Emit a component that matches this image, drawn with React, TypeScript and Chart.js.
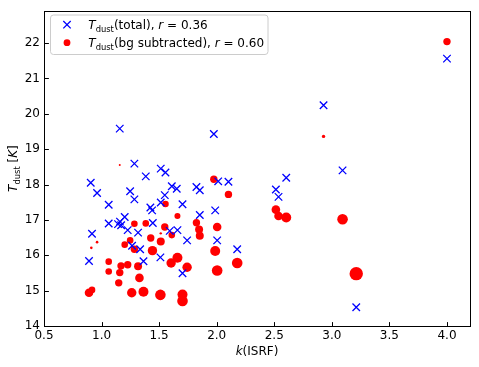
import React, { useEffect, useRef } from "react";
import { Chart, registerables } from "chart.js";

Chart.register(...registerables);

// ---- data ----
const kTotal = [
  0.906, 0.961, 0.917, 0.891, 1.062, 1.062, 1.158, 1.143, 1.16, 1.17, 1.201, 1.227, 1.248,
  1.285, 1.285, 1.317, 1.265, 1.335, 1.364, 1.384, 1.424, 1.439, 1.445, 1.514, 1.555, 1.514,
  1.549, 1.511, 1.61, 1.653, 1.592, 1.659, 1.703, 1.743, 1.703, 1.824, 1.853, 1.853, 1.975,
  1.987, 2.013, 2.004, 2.102, 2.178, 2.514, 2.537, 2.604, 2.928, 3.093, 3.212, 4.0,
];
const tTotal = [
  18.05, 17.76, 16.61, 15.84, 17.43, 16.9, 19.58, 16.88, 16.95, 16.85, 17.08, 16.71, 17.81,
  18.59, 17.58, 16.64, 16.27, 16.17, 15.83, 18.23, 17.35, 17.27, 16.91, 18.45, 18.34, 17.49,
  17.7, 15.94, 17.95, 17.88, 16.69, 16.71, 17.44, 16.42, 15.49, 17.93, 17.84, 17.14, 19.43,
  17.27, 18.09, 16.42, 18.08, 16.17, 17.86, 17.65, 18.19, 20.24, 18.4, 14.53, 21.56,
];
const kBg = [
  4.0, 2.928, 1.158, 1.975, 2.102, 1.555, 2.514, 2.537, 2.604, 3.093, 3.212, 1.285, 1.384,
  1.659, 1.824, 1.847, 1.853, 2.004, 1.549, 1.514, 1.427, 1.514, 1.61, 0.961, 0.911, 1.201,
  1.248, 1.285, 1.442, 1.987, 1.062, 1.169, 1.227, 1.317, 1.659, 1.604, 1.743, 2.004, 2.178,
  1.062, 1.158, 1.329, 1.149, 0.891, 0.917, 1.262, 1.364, 1.511, 1.703, 1.703,
];
const tBg = [
  22.04, 19.36, 18.55, 18.15, 17.72, 17.45, 17.29, 17.11, 17.07, 17.02, 15.48, 16.89, 16.9,
  17.11, 16.92, 16.73, 16.55, 16.8, 16.8, 16.62, 16.49, 16.39, 16.57, 16.37, 16.21, 16.3,
  16.42, 16.17, 16.13, 16.12, 15.82, 15.7, 15.73, 15.69, 15.93, 15.78, 15.66, 15.57, 15.78,
  15.54, 15.51, 15.36, 15.22, 14.94, 15.02, 14.94, 14.97, 14.88, 14.89, 14.71,
];
// marker size (radius) of the bg-subtracted points
const bgSize = [
  3.7, 1.7, 1.0, 3.7, 3.7, 3.3, 4.3, 4.3, 5.0, 5.3, 6.7, 3.3, 3.3,
  3.0, 3.7, 4.0, 4.0, 4.3, 3.7, 1.2, 3.7, 4.0, 3.3, 1.3, 1.3, 3.3,
  3.3, 3.7, 4.7, 5.0, 3.3, 3.7, 3.7, 4.0, 5.0, 4.7, 4.7, 5.3, 5.3,
  3.3, 3.7, 4.3, 3.7, 4.3, 3.3, 4.7, 5.0, 5.3, 5.0, 5.3,
];
const xTicks = [0.5, 1.0, 1.5, 2.0, 2.5, 3.0, 3.5, 4.0];
const yTicks = [14, 15, 16, 17, 18, 19, 20, 21, 22];
const rTotal = "0.36";
const rBg = "0.60";

const FAM = '"DejaVu Sans"';
const FS = 12;

type Part = { t: string; italic?: boolean; sub?: boolean };

function drawRich(ctx: CanvasRenderingContext2D, parts: Part[], x: number, y: number, measureOnly = false) {
  let cx = x;
  for (const p of parts) {
    const size = p.sub ? FS * 0.7 : FS;
    ctx.font = `${p.italic ? "italic " : ""}${size}px ${FAM}`;
    if (!measureOnly) ctx.fillText(p.t, cx, y + (p.sub ? 2.7 : 0));
    cx += ctx.measureText(p.t).width;
  }
  return cx - x;
}

const decor = {
  id: "decor",
  afterDraw(chart: any) {
    const { ctx, chartArea: a, scales } = chart;
    ctx.save();
    ctx.strokeStyle = "#000";
    ctx.lineWidth = 1;
    const L = Math.round(a.left) + 0.5;
    const R = Math.round(a.right) + 0.5;
    const T = Math.round(a.top) + 0.5;
    const B = Math.round(a.bottom) + 0.5;
    ctx.strokeRect(L, T, R - L, B - T);
    ctx.beginPath();
    for (const v of xTicks) {
      const px = Math.round(scales.x.getPixelForValue(v)) + 0.5;
      ctx.moveTo(px, B);
      ctx.lineTo(px, B - 4.4);
    }
    for (const v of yTicks) {
      const py = Math.round(scales.y.getPixelForValue(v)) + 0.5;
      ctx.moveTo(L, py);
      ctx.lineTo(L + 4.4, py);
    }
    ctx.stroke();

    // legend
    const lx = 50.5, ly = 15, lw = 217.5, lh = 39.5;
    ctx.beginPath();
    ctx.roundRect(lx, ly, lw, lh, 3);
    ctx.fillStyle = "rgba(255,255,255,0.8)";
    ctx.fill();
    ctx.strokeStyle = "#cccccc";
    ctx.stroke();
    // cross marker
    const mx = 67, my1 = 24.7, my2 = 42.7, hs = 3.7;
    ctx.strokeStyle = "#0000ff";
    ctx.lineWidth = 1.3;
    ctx.beginPath();
    ctx.moveTo(mx - hs, my1 - hs);
    ctx.lineTo(mx + hs, my1 + hs);
    ctx.moveTo(mx - hs, my1 + hs);
    ctx.lineTo(mx + hs, my1 - hs);
    ctx.stroke();
    ctx.fillStyle = "#ff0000";
    ctx.beginPath();
    ctx.arc(mx, my2, 3.4, 0, Math.PI * 2);
    ctx.fill();

    ctx.fillStyle = "#000";
    ctx.textBaseline = "alphabetic";
    ctx.textAlign = "left";
    drawRich(ctx, [
      { t: "T", italic: true }, { t: "dust", sub: true }, { t: "(total), " },
      { t: "r", italic: true }, { t: " = " + rTotal },
    ], 88.3, 29);
    drawRich(ctx, [
      { t: "T", italic: true }, { t: "dust", sub: true }, { t: "(bg subtracted), " },
      { t: "r", italic: true }, { t: " = " + rBg },
    ], 88.3, 47);

    // x title
    const xParts: Part[] = [{ t: "k", italic: true }, { t: "(ISRF)" }];
    const xw = drawRich(ctx, xParts, 0, 0, true);
    drawRich(ctx, xParts, (a.left + a.right) / 2 - xw / 2, 355);

    // y title
    const yParts: Part[] = [{ t: "T", italic: true }, { t: "dust", sub: true }, { t: " [" }, { t: "K", italic: true }, { t: "]" }];
    const yw = drawRich(ctx, yParts, 0, 0, true);
    ctx.translate(17, (a.top + a.bottom) / 2);
    ctx.rotate(-Math.PI / 2);
    drawRich(ctx, yParts, -yw / 2, 0);
    ctx.restore();
  },
};

export default function App() {
  const ref = useRef<HTMLCanvasElement | null>(null);
  useEffect(() => {
    document.body.style.margin = "0";
    const canvas = ref.current!;
    const chart = new Chart(canvas, {
      type: "scatter",
      data: {
        datasets: [
          {
            label: "total",
            data: kTotal.map((k, i) => ({ x: k, y: tTotal[i] })),
            pointStyle: "crossRot",
            radius: 5.3,
            borderColor: "#0000ff",
            backgroundColor: "#0000ff",
            borderWidth: 1.3,
          },
          {
            label: "bg",
            data: kBg.map((k, i) => ({ x: k, y: tBg[i] })),
            pointStyle: "circle",
            radius: bgSize,
            borderWidth: 0,
            borderColor: "#ff0000",
            backgroundColor: "#ff0000",
          },
        ],
      },
      options: {
        animation: false,
        responsive: false,
        devicePixelRatio: 1,
        layout: { padding: { top: 8, right: 9, left: 0, bottom: 0 } },
        plugins: { legend: { display: false }, tooltip: { enabled: false } },
        scales: {
          x: {
            type: "linear",
            min: 0.5,
            max: 4.2,
            afterBuildTicks: (s: any) => {
              s.ticks = xTicks.map((v) => ({ value: v }));
            },
            afterFit: (s: any) => {
              s.height = 41;
            },
            grid: { display: false, drawTicks: false },
            border: { display: false },
            ticks: {
              color: "#000",
              padding: 3,
              font: { family: "DejaVu Sans", size: FS },
              maxRotation: 0,
              autoSkip: false,
              callback: (v: any) => Number(v).toFixed(1),
            },
          },
          y: {
            type: "linear",
            min: 14,
            max: 22.9,
            afterBuildTicks: (s: any) => {
              s.ticks = yTicks.map((v) => ({ value: v }));
            },
            afterFit: (s: any) => {
              s.width = 44;
            },
            grid: { display: false, drawTicks: false },
            border: { display: false },
            ticks: {
              color: "#000",
              padding: 4,
              font: { family: "DejaVu Sans", size: FS },
              autoSkip: false,
              callback: (v: any) => String(v),
            },
          },
        },
      },
      plugins: [decor],
    });
    return () => chart.destroy();
  }, []);
  return (
    <div style={{ width: 479, height: 367 }}>
      <canvas ref={ref} width={479} height={367} style={{ display: "block" }} />
    </div>
  );
}
